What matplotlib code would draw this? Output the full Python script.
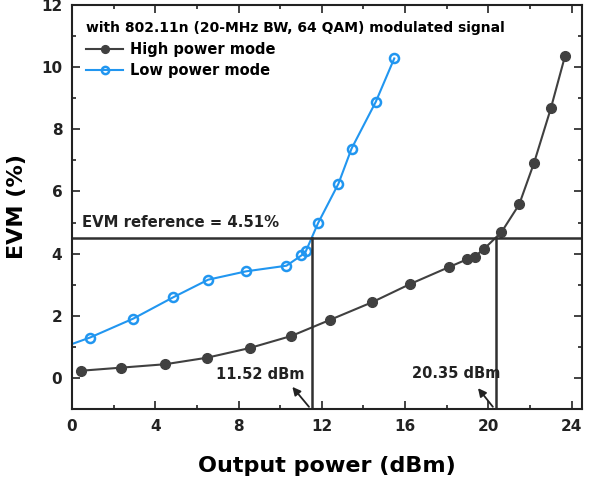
import matplotlib
matplotlib.use('Agg')
from matplotlib import pyplot as plt
from matplotlib.ticker import MultipleLocator

# High power mode (dark, filled)
high_x = [0.42, 2.36, 4.48, 6.49, 8.53, 10.54, 12.37, 14.40, 16.24, 18.09,
          18.99, 19.34, 19.79, 20.63, 21.48, 22.20, 23.00, 23.68]
high_y = [0.23, 0.33, 0.44, 0.65, 0.96, 1.35, 1.86, 2.43, 3.02, 3.56,
          3.82, 3.90, 4.15, 4.69, 5.58, 6.93, 8.67, 10.35]

# Low power mode (blue, open); first point sits just off the left edge
low_x = [-0.5, 0.87, 2.95, 4.85, 6.54, 8.37, 10.30, 11.02, 11.23, 11.82,
         12.80, 13.43, 14.59, 15.48]
low_y = [0.97, 1.30, 1.91, 2.59, 3.16, 3.43, 3.61, 3.94, 4.07, 4.98,
         6.25, 7.38, 8.88, 10.28]

evm_ref = 4.51
p_low = 11.52
p_high = 20.35

dark = '#404040'
blue = '#2196F0'

fig = plt.figure(figsize=(5.93, 4.84), dpi=100)
ax = fig.add_axes([0.1214, 0.155, 0.8601, 0.8347])

ax.plot(high_x, high_y, '-o', color=dark, lw=1.5, ms=7, label='High power mode')
ax.plot(low_x, low_y, '-o', color=blue, lw=1.5, ms=6.5, mfc='none', mew=1.8,
        label='Low power mode')

# reference lines
ax.axhline(evm_ref, color='#303030', lw=1.8)
ax.plot([p_low, p_low], [-1, evm_ref], color='#303030', lw=1.8)
ax.plot([p_high, p_high], [-1, evm_ref], color='#303030', lw=1.8)

ax.text(0.5, 5.0, 'EVM reference = 4.51%', fontsize=10.7, fontweight='bold',
        va='center', color='#222222')

arrow = dict(arrowstyle='-|>', color='#222222', lw=1.3, mutation_scale=12)
ax.annotate('', xy=(10.5, -0.22), xytext=(p_low - 0.05, -1), arrowprops=arrow)
ax.annotate('', xy=(19.42, -0.26), xytext=(p_high - 0.05, -1), arrowprops=arrow)
ax.text(9.06, 0.12, '11.52 dBm', fontsize=10.5, fontweight='bold', ha='center',
        va='center', color='#222222')
ax.text(18.46, 0.14, '20.35 dBm', fontsize=10.5, fontweight='bold', ha='center',
        va='center', color='#222222')

ax.set_xlim(0, 24.5)
ax.set_ylim(-1, 12)
ax.xaxis.set_major_locator(MultipleLocator(4))
ax.xaxis.set_minor_locator(MultipleLocator(2))
ax.yaxis.set_major_locator(MultipleLocator(2))
ax.yaxis.set_minor_locator(MultipleLocator(1))
ax.tick_params(which='both', direction='in', top=True, right=True,
               labelsize=11, width=1.2, colors='#222222')
ax.tick_params(which='major', length=6, pad=7)
ax.tick_params(which='minor', length=3)
for lab in ax.get_xticklabels() + ax.get_yticklabels():
    lab.set_fontweight('bold')
for s in ax.spines.values():
    s.set_linewidth(1.5)
    s.set_color('#222222')

ax.set_xlabel('Output power (dBm)', fontsize=16, fontweight='bold', labelpad=16)
ax.set_ylabel('EVM (%)', fontsize=16, fontweight='bold', labelpad=10)

leg = ax.legend(loc='upper left', frameon=False, title='with 802.11n (20-MHz BW, 64 QAM) modulated signal',
                prop={'weight': 'bold', 'size': 10.5},
                title_fontproperties={'weight': 'bold', 'size': 10},
                handlelength=2.5, handletextpad=0.5, markerscale=0.8,
                borderaxespad=0.3, labelspacing=0.45,
                bbox_to_anchor=(0.008, 0.985))
leg._legend_box.align = 'left'

fig.savefig('out.png', dpi=100)
